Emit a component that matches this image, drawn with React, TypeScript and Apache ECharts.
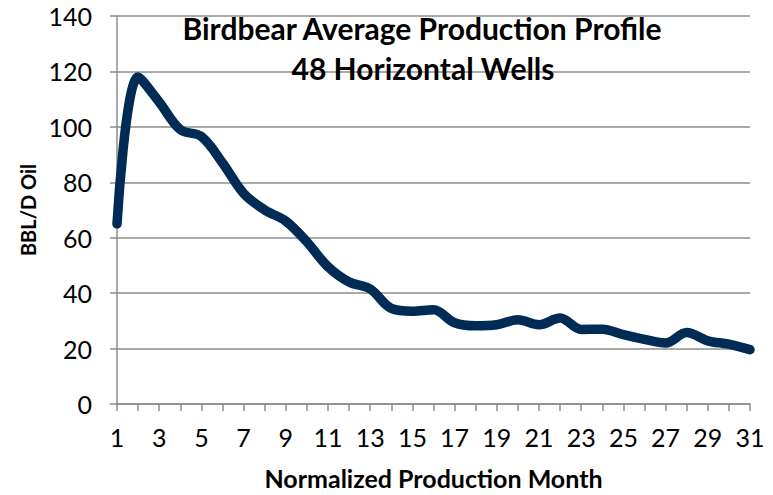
import React, { useEffect, useRef } from "react";
import * as echarts from "echarts";

const months = Array.from({ length: 31 }, (_, i) => String(i + 1));
const oilRate = [
  65, 118, 109, 99, 96.5, 87, 76, 70, 66, 58.5, 49.5, 44, 41.5, 34.5, 33.5, 34,
  29.3, 28.2, 28.6, 30.4, 28.6, 31, 26.9, 27, 25, 23.3, 22, 25.8, 22.8, 21.6, 19.6,
];
const yTicks = { min: 0, max: 140, interval: 20 };
const titleLines = ["Birdbear Average Production Profile", "48 Horizontal Wells"];
const xName = "Normalized Production Month";
const yName = "BBL/D Oil";

const FONT = "Lato";

export default function App() {
  const ref = useRef<HTMLDivElement>(null);
  useEffect(() => {
    if (!ref.current) return;
    const chart = echarts.init(ref.current, undefined, { renderer: "svg" });
    const titleStyle = {
      fill: "#000",
      fontFamily: FONT,
      fontWeight: "bold",
      fontSize: 30,
      align: "center",
      verticalAlign: "middle",
    };
    chart.setOption({
      animation: false,
      backgroundColor: "#ffffff",
      grid: { left: 117, right: 23, top: 16, bottom: 88, containLabel: false },
      graphic: [
        { type: "text", x: 422, y: 28, z: 10, style: { ...titleStyle, text: titleLines[0] } },
        { type: "text", x: 423, y: 68, z: 10, style: { ...titleStyle, text: titleLines[1] } },
      ],
      xAxis: {
        type: "category",
        data: months,
        boundaryGap: false,
        name: xName,
        nameLocation: "middle",
        nameGap: 61,
        nameTextStyle: { fontFamily: FONT, fontWeight: "bold", fontSize: 25, color: "#000" },
        axisLine: { lineStyle: { color: "#8c8c8c", width: 1.5 } },
        axisTick: { show: true, interval: 0, length: 7, lineStyle: { color: "#8c8c8c", width: 1.5 } },
        axisLabel: { interval: 1, margin: 20, fontFamily: FONT, fontSize: 25, color: "#000" },
        splitLine: { show: false },
      },
      yAxis: {
        type: "value",
        min: yTicks.min,
        max: yTicks.max,
        interval: yTicks.interval,
        name: yName,
        nameLocation: "middle",
        nameGap: 78,
        nameTextStyle: { fontFamily: FONT, fontWeight: "bold", fontSize: 20, color: "#000" },
        axisLine: { show: true, lineStyle: { color: "#8c8c8c", width: 1.5 } },
        axisTick: { show: true, length: 7, lineStyle: { color: "#8c8c8c", width: 1.5 } },
        axisLabel: { margin: 25, fontFamily: FONT, fontSize: 25, color: "#000" },
        splitLine: { show: true, lineStyle: { color: "#8c8c8c", width: 1.5 } },
      },
      series: [
        {
          type: "line",
          data: oilRate,
          smooth: 0.35,
          symbol: "none",
          lineStyle: { color: "#002b55", width: 9.5, cap: "round", join: "round" },
        },
      ],
    });
    return () => chart.dispose();
  }, []);
  return (
    <div
      ref={ref}
      style={{ position: "fixed", left: 0, top: 0, width: 773, height: 495 }}
    />
  );
}
